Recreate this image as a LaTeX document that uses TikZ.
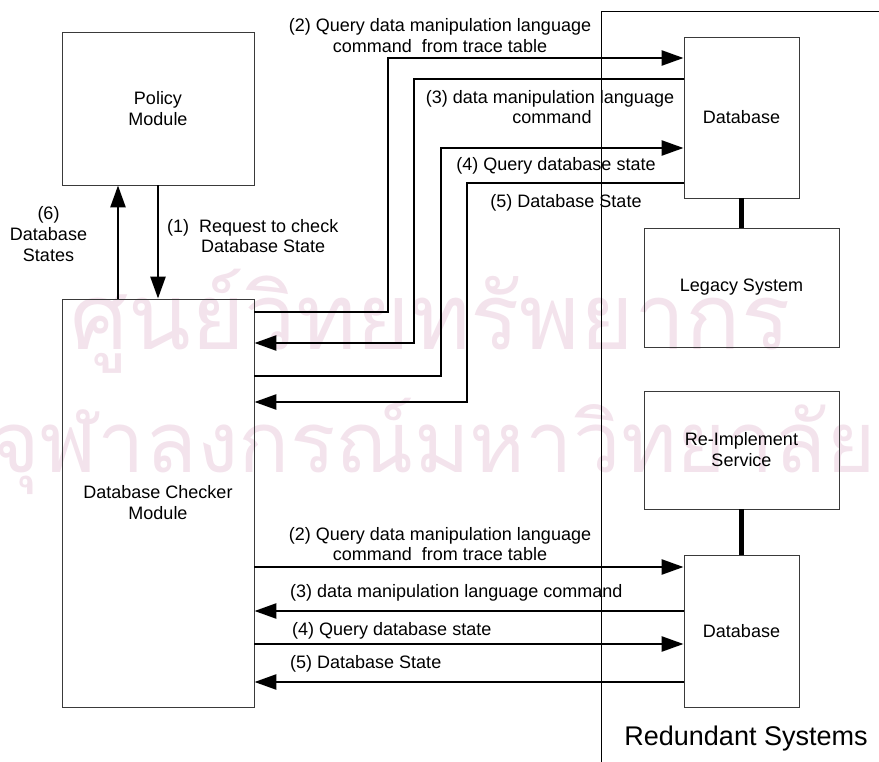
\documentclass[tikz,border=0pt]{standalone}
\usepackage{fontspec}
\setmainfont{Liberation Sans}
\newfontfamily\thaifont[Script=Thai]{Loma}
\usetikzlibrary{arrows.meta}
\definecolor{wmpink}{HTML}{F3E3EC}
\definecolor{boxline}{HTML}{3A3A3A}

\begin{document}
\begin{tikzpicture}[x=1pt,y=-1pt,
  box/.style={draw=boxline,line width=0.9pt,inner sep=0pt,align=center,
    font=\fontsize{18}{21}\selectfont},
  lbl/.style={anchor=base,inner sep=0pt,font=\fontsize{18}{21}\selectfont},
  flow/.style={line width=2.6pt,-{Triangle[length=22pt,width=15pt]}},
  plain/.style={line width=2.6pt},
  link/.style={line width=4.6pt},
  wmark/.style={anchor=base west,inner sep=0pt,text=wmpink}]
\useasboundingbox (0,0) rectangle (879,762);

% background stamp
\node[wmark] (wmA) at (70,349) {\resizebox{720pt}{!}{\thaifont ศูนย์วิทยทรัพยากร}};
\node[wmark] (wmB) at (-10,472) {\resizebox{885pt}{!}{\thaifont จุฬาลงกรณ์มหาวิทยาลัย}};

% system boundary
\coordinate (sepTop) at (601,11);
\draw[line width=0.9pt] (601,762) -- (sepTop) -- (879,11);

% modules
\node[box,minimum width=192pt,minimum height=153pt] (policy) at (158,108.5) {Policy\\Module};
\node[box,minimum width=192pt,minimum height=408pt] (dcm) at (158,503) {Database Checker\\Module};

% redundant systems
\node[box,minimum width=115pt,minimum height=161pt] (dbA) at (741.5,117.5) {Database};
\node[box,minimum width=195pt,minimum height=119pt] (legacy) at (741.5,287.5) {Legacy System};
\node[box,minimum width=195pt,minimum height=118pt] (reimpl) at (741.5,450) {Re-Implement\\Service};
\node[box,minimum width=115pt,minimum height=152pt] (dbB) at (741.5,631) {Database};

\draw[link] (dbA.south) -- (legacy.north);
\draw[link] (reimpl.south) -- (dbB.north);

\node[lbl,font=\fontsize{27}{30}\selectfont] (redund) at (746,745) {Redundant Systems};

% policy <-> checker
\draw[flow] (dcm.north -| 118,0) -- (policy.south -| 118,0);
\draw[flow] (policy.south) -- (dcm.north);
\node[lbl] (l6a) at (48.5,220) {(6)};
\node[lbl] (l6b) at (48.5,241) {Database};
\node[lbl] (l6c) at (48.5,262) {States};
\node[lbl,anchor=base west] (l1a) at (167,233) {(1)\ \ Request to check};
\node[lbl,anchor=base west] (l1b) at (201,253) {Database State};

% checker <-> legacy database
\draw[flow] (dcm.east |- 0,312) -| (388,58) -- (dbA.west |- 0,58);
\draw[flow] (dbA.west |- 0,79) -| (414,343) -- (dcm.east |- 0,343);
\draw[flow] (dcm.east |- 0,376) -| (441,148) -- (dbA.west |- 0,148);
\draw[flow] (dbA.west |- 0,183) -| (467,402) -- (dcm.east |- 0,402);

\node[lbl] (t2a) at (440,31.5) {(2) Query data manipulation language};
\node[lbl] (t2b) at (440,52.5) {command\ \ from trace table};
\node[lbl] (t3a) at (550,103.5) {(3) data manipulation language};
\node[lbl] (t3b) at (552,124) {command};
\node[lbl] (t4) at (556,170.5) {(4) Query database state};
\node[lbl] (t5) at (566,208) {(5) Database State};

% checker <-> re-implemented database
\draw[flow] (dcm.east |- 0,567) -- (dbB.west |- 0,567);
\draw[flow] (dbB.west |- 0,611) -- (dcm.east |- 0,611);
\draw[flow] (dcm.east |- 0,644) -- (dbB.west |- 0,644);
\draw[flow] (dbB.west |- 0,682) -- (dcm.east |- 0,682);

\node[lbl] (b2a) at (440,540) {(2) Query data manipulation language};
\node[lbl] (b2b) at (440,560.5) {command\ \ from trace table};
\node[lbl,anchor=base west] (b3) at (290,597.5) {(3) data manipulation language command};
\node[lbl,anchor=base west] (b4) at (292,635) {(4) Query database state};
\node[lbl,anchor=base west] (b5) at (290,668) {(5) Database State};
\end{tikzpicture}
\end{document}
